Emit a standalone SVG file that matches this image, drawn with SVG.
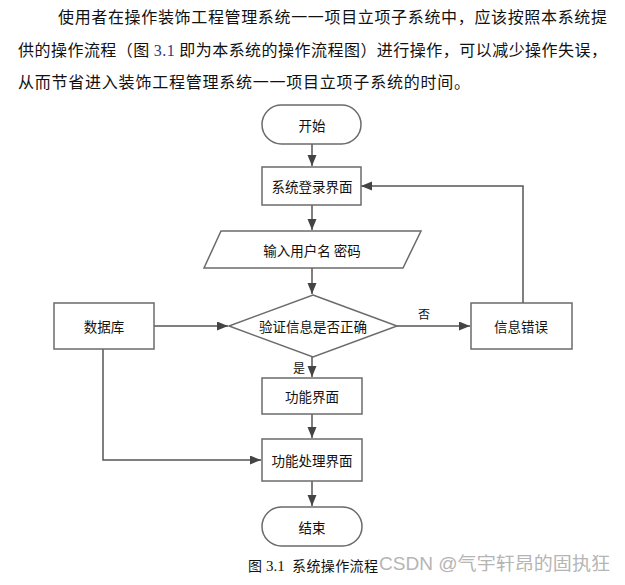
<svg xmlns="http://www.w3.org/2000/svg" width="625" height="585" viewBox="0 0 625 585">
<style>
.para{font-family:"SimSun","Noto Sans CJK SC",sans-serif;font-size:16px;fill:#111}
.lbl{font-family:"Noto Sans CJK SC",sans-serif;font-size:13.5px;fill:#111;text-anchor:middle;dominant-baseline:central}
.small{font-family:"Noto Sans CJK SC",sans-serif;font-size:12px;fill:#111;text-anchor:middle;dominant-baseline:central}
.shape{fill:#fff;stroke:#6b6b6b;stroke-width:1.5}
.conn{fill:none;stroke:#555;stroke-width:1.5}
</style>
<defs>
<marker id="ah" markerUnits="userSpaceOnUse" markerWidth="12" markerHeight="10" refX="11" refY="4.5" orient="auto">
<path d="M0,0 L11,4.5 L0,9 z" fill="#444"/>
</marker>
</defs>
<rect width="625" height="585" fill="#fff"/>
<g id="paragraph">
<text class="para" x="58" y="23" textLength="549" lengthAdjust="spacing">使用者在操作装饰工程管理系统一一项目立项子系统中，应该按照本系统提</text>
<text class="para" x="18" y="56" textLength="589" lengthAdjust="spacing">供的操作流程（图 <tspan fill="#2a3a7a" font-family="Liberation Serif">3.1</tspan> 即为本系统的操作流程图）进行操作，可以减少操作失误，</text>
<text class="para" x="18" y="88" textLength="452" lengthAdjust="spacing">从而节省进入装饰工程管理系统一一项目立项子系统的时间。</text>
</g>
<g id="connectors">
<path class="conn" d="M312,144 V166" marker-end="url(#ah)"/>
<path class="conn" d="M312,205 V230" marker-end="url(#ah)"/>
<path class="conn" d="M312,268 V294" marker-end="url(#ah)"/>
<path class="conn" d="M154,326 H228" marker-end="url(#ah)"/>
<path class="conn" d="M397,326 H470" marker-end="url(#ah)"/>
<path class="conn" d="M523,303 V186 H361" marker-end="url(#ah)"/>
<path class="conn" d="M312,357 V377" marker-end="url(#ah)"/>
<path class="conn" d="M312,414 V438" marker-end="url(#ah)"/>
<path class="conn" d="M103,349 V460 H261" marker-end="url(#ah)"/>
<path class="conn" d="M312,481 V506" marker-end="url(#ah)"/>
<text class="small" x="424" y="313">否</text>
<text class="small" x="299" y="367">是</text>
</g>
<g id="start">
<rect class="shape" x="262" y="105" width="99" height="39" rx="19.5"/>
<text class="lbl" x="312" y="124.5">开始</text>
</g>
<g id="login">
<rect class="shape" x="262" y="167" width="99" height="38"/>
<text class="lbl" x="312" y="186">系统登录界面</text>
</g>
<g id="input">
<path class="shape" d="M221,231 H421 L403,268 H204 Z"/>
<text class="lbl" x="312" y="249.5">输入用户名 密码</text>
</g>
<g id="verify">
<path class="shape" d="M313,295 L397,326 L313,357 L229,326 Z"/>
<text class="lbl" x="313" y="326">验证信息是否正确</text>
</g>
<g id="database">
<rect class="shape" x="54" y="303" width="100" height="46"/>
<text class="lbl" x="104" y="326">数据库</text>
</g>
<g id="error">
<rect class="shape" x="471" y="303" width="101" height="46"/>
<text class="lbl" x="521" y="326">信息错误</text>
</g>
<g id="function">
<rect class="shape" x="262" y="378" width="100" height="36"/>
<text class="lbl" x="312" y="396">功能界面</text>
</g>
<g id="process">
<rect class="shape" x="262" y="439" width="100" height="42"/>
<text class="lbl" x="312" y="460">功能处理界面</text>
</g>
<g id="end">
<rect class="shape" x="262" y="507" width="100" height="39" rx="19.5"/>
<text class="lbl" x="312" y="526.5">结束</text>
</g>
<g id="caption">
<text y="571" font-family="SimSun,'Noto Sans CJK SC',sans-serif" font-size="14" fill="#111"><tspan x="248">图</tspan><tspan x="266" font-family="Liberation Serif" font-size="15">3.1</tspan><tspan x="292" textLength="86" lengthAdjust="spacing">系统操作流程</tspan></text>
<text x="379" y="570" font-family="'Liberation Sans','Noto Sans CJK SC',sans-serif" font-size="18" fill="#b5b5b5" textLength="231" lengthAdjust="spacingAndGlyphs">CSDN @气宇轩昂的固执狂</text>
</g>
</svg>
